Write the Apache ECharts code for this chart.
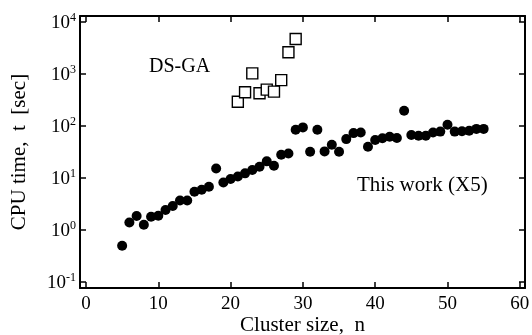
<!DOCTYPE html>
<html>
<head>
<meta charset="utf-8">
<script src="https://cdn.jsdelivr.net/npm/echarts@6/dist/echarts.min.js"></script>
<style>
html,body{margin:0;padding:0;background:#fff;}
#c{width:532px;height:335px;}
</style>
</head>
<body>
<div id="c"></div>
<script>
// Cluster sizes and CPU times
var dsgaN = [21, 22, 23, 24, 25, 26, 27, 28, 29];
var dsgaT = [293, 444, 1025, 425, 500, 457, 762, 2620, 4700];

var workN = [5, 6, 7, 8, 9, 10, 11, 12, 13, 14, 15, 16, 17, 18, 19, 20,
             21, 22, 23, 24, 25, 26, 27, 28, 29, 30, 31, 32, 33, 34, 35,
             36, 37, 38, 39, 40, 41, 42, 43, 44, 45, 46, 47, 48, 49, 50,
             51, 52, 53, 54, 55];
var workT = [0.50, 1.40, 1.86, 1.26, 1.80, 1.88, 2.43, 2.9, 3.7, 3.7, 5.45, 5.96, 6.8, 15.3, 8.2, 9.6,
             10.7, 12.3, 14.3, 16.5, 20.9, 17.2, 28, 29.7, 85, 94, 32, 85, 32.5, 43.6, 32,
             56, 73, 75, 40, 54, 58, 62, 59, 196, 67, 65, 65, 75, 78, 106,
             78, 79, 81, 88, 88];

var xTicks = [0, 10, 20, 30, 40, 50, 60];
var yTicks = [0.1, 1, 10, 100, 1000, 10000];

var FONT = 'Liberation Serif';

function pairs(a, b) { return a.map(function (v, i) { return [v, b[i]]; }); }

var chart = echarts.init(document.getElementById('c'), null, {renderer: 'canvas'});
var axisLine = {show: true, onZero: false, lineStyle: {color: '#000', width: 2}};
var tickStyle = {show: true, inside: true, length: 6, lineStyle: {color: '#000', width: 1.5}};

chart.setOption({
  animation: false,
  backgroundColor: '#fff',
  grid: {left: 80, right: 7, top: 16, bottom: 47, containLabel: false, outerBoundsMode: 'none'},
  xAxis: [{
    type: 'value', position: 'bottom', min: -0.83, max: 60.72,
    axisLine: axisLine,
    axisTick: Object.assign({customValues: xTicks}, tickStyle),
    axisLabel: {customValues: xTicks, color: '#000', fontFamily: FONT, fontSize: 19, margin: 7},
    splitLine: {show: false},
    name: 'Cluster size,  n', nameLocation: 'middle', nameGap: 27, nameMoveOverlap: false,
    nameTextStyle: {color: '#000', fontFamily: FONT, fontSize: 21}
  }, {
    type: 'value', position: 'top', min: -0.83, max: 60.72,
    axisLine: axisLine,
    axisTick: Object.assign({customValues: xTicks}, tickStyle),
    axisLabel: {show: false},
    splitLine: {show: false}
  }],
  yAxis: [{
    type: 'log', position: 'left', min: 0.077, max: 13000, logBase: 10,
    axisLine: axisLine,
    axisTick: Object.assign({customValues: yTicks}, tickStyle),
    axisLabel: {
      customValues: yTicks, margin: 4,
      formatter: function (v) {
        var e = Math.round(Math.log10(v));
        return '{b|10}{s|' + e + '}';
      },
      rich: {
        b: {color: '#000', fontFamily: FONT, fontSize: 19, verticalAlign: 'bottom'},
        s: {color: '#000', fontFamily: FONT, fontSize: 12, verticalAlign: 'top', padding: [0, 0, 9, 0]}
      }
    },
    splitLine: {show: false},
    name: 'CPU time,  t  [sec]', nameLocation: 'middle', nameGap: 50, nameRotate: 90, nameMoveOverlap: false,
    nameTextStyle: {color: '#000', fontFamily: FONT, fontSize: 21}
  }, {
    type: 'log', position: 'right', min: 0.077, max: 13000, logBase: 10,
    axisLine: axisLine,
    axisTick: Object.assign({customValues: yTicks}, tickStyle),
    axisLabel: {show: false},
    splitLine: {show: false}
  }],
  graphic: [
    {type: 'text', left: 149, top: 57, style: {text: 'DS-GA', fill: '#000', font: '20px "Liberation Serif"'}},
    {type: 'text', left: 357, top: 175, style: {text: 'This work (X5)', fill: '#000', font: '21px "Liberation Serif"'}}
  ],
  series: [{
    type: 'scatter', name: 'DS-GA', xAxisIndex: 0, yAxisIndex: 0,
    symbol: 'rect', symbolSize: 11,
    itemStyle: {color: '#fff', borderColor: '#000', borderWidth: 1.4, opacity: 1},
    data: pairs(dsgaN, dsgaT), z: 3
  }, {
    type: 'scatter', name: 'This work', xAxisIndex: 0, yAxisIndex: 0,
    symbol: 'circle', symbolSize: 10,
    itemStyle: {color: '#000', opacity: 1},
    data: pairs(workN, workT), z: 3
  }]
});
</script>
</body>
</html>
